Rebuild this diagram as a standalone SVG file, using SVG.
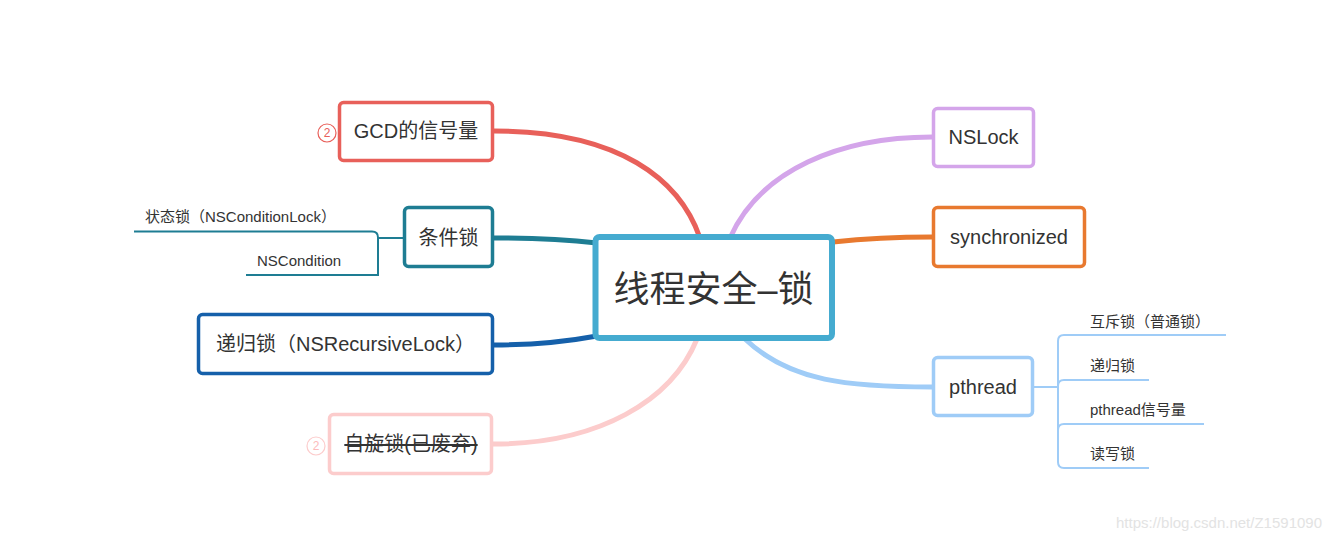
<svg xmlns="http://www.w3.org/2000/svg" width="1332" height="540" viewBox="0 0 1332 540">
<style>
text{font-family:"Liberation Sans","Noto Sans CJK SC",sans-serif;fill:#333;}
.t20{font-size:20px;text-anchor:middle;dominant-baseline:central;}
.t14{font-size:15px;}
.box{fill:#fff;stroke-width:3.5;}
.conn{fill:none;stroke-width:5;stroke-linecap:round;}
.sub{fill:none;stroke-width:2;}
</style>
<rect width="1332" height="540" fill="#fff"/>
<g id="connectors">
<path class="conn" stroke="#E8605A" d="M494,131 C620,131 680,180 700,238"/>
<path class="conn" stroke="#D4A5EA" d="M730,238 C760,170 840,137 932,137"/>
<path class="conn" stroke="#E8792F" d="M833,242 C870,238 900,237 932,237"/>
<path class="conn" stroke="#9FCCF7" d="M745,339 C790,382 850,387 932,387"/>
<path class="conn" stroke="#1E7D93" d="M494,238 C540,238 570,240 597,243"/>
<path class="conn" stroke="#1560AA" d="M494,345 C540,345 570,341 597,336"/>
<path class="conn" stroke="#FCCCCC" d="M493,444 C600,444 672,400 697,339"/>
<path class="sub" stroke="#1E7D93" d="M403,238 H378 M134,231.5 H372 Q378,231.5 378,237.5 V275 H246"/>
<path class="sub" stroke="#9FCCF7" d="M1034,387 H1058 M1226,335 H1064 Q1058,335 1058,341 V462 Q1058,468 1064,468 H1149 M1058,386 Q1058,380 1064,380 H1149 M1058,430 Q1058,424 1064,424 H1204"/>
</g>
<g id="center">
<rect x="595.5" y="237" width="236.5" height="101" rx="4" fill="#fff" stroke="#45ABD0" stroke-width="6"/>
<text x="713.5" y="289" style="font-size:36px;text-anchor:middle;dominant-baseline:central;">线程安全–锁</text>
</g>
<g id="gcd">
<rect class="box" x="339.5" y="102.5" width="153" height="58" rx="4" stroke="#E8605A"/>
<text class="t20" x="416" y="131">GCD的信号量</text>
<circle cx="327" cy="133" r="9" fill="none" stroke="#E8605A" stroke-width="1.2"/>
<text x="327" y="133" style="font-size:12px;fill:#E8605A;text-anchor:middle;dominant-baseline:central;">2</text>
</g>
<g id="condition">
<rect class="box" x="404.5" y="207.5" width="88" height="59" rx="4" stroke="#1E7D93"/>
<text class="t20" x="448.5" y="238">条件锁</text>
<text class="t14" x="145" y="222">状态锁（NSConditionLock）</text>
<text class="t14" x="257" y="266">NSCondition</text>
</g>
<g id="recursive">
<rect class="box" x="198.5" y="314.5" width="294" height="59" rx="4" stroke="#1560AA"/>
<text class="t20" x="345.5" y="344">递归锁（NSRecursiveLock）</text>
</g>
<g id="spin">
<rect class="box" x="329.5" y="414.5" width="162" height="59" rx="4" stroke="#FCCCCC"/>
<text class="t20" x="411" y="444" style="text-decoration:line-through;">自旋锁(已废弃)</text>
<circle cx="316" cy="446" r="9" fill="none" stroke="#FCCCCC" stroke-width="1.2"/>
<text x="316" y="446" style="font-size:12px;fill:#FCBBBB;text-anchor:middle;dominant-baseline:central;">2</text>
</g>
<g id="nslock">
<rect class="box" x="933.5" y="108.5" width="100" height="58" rx="4" stroke="#D4A5EA"/>
<text class="t20" x="983.5" y="137">NSLock</text>
</g>
<g id="synchronized">
<rect class="box" x="933.5" y="207.5" width="151" height="59" rx="4" stroke="#E8792F"/>
<text class="t20" x="1009" y="237">synchronized</text>
</g>
<g id="pthread">
<rect class="box" x="933.5" y="357.5" width="99" height="58" rx="4" stroke="#9FCCF7"/>
<text class="t20" x="983" y="387">pthread</text>
<text class="t14" x="1090" y="327">互斥锁（普通锁）</text>
<text class="t14" x="1090" y="371">递归锁</text>
<text class="t14" x="1090" y="415">pthread信号量</text>
<text class="t14" x="1090" y="459">读写锁</text>
</g>
<text x="1322" y="528" style="font-size:15px;fill:#e3e3e3;text-anchor:end;">https://blog.csdn.net/Z1591090</text>
</svg>
